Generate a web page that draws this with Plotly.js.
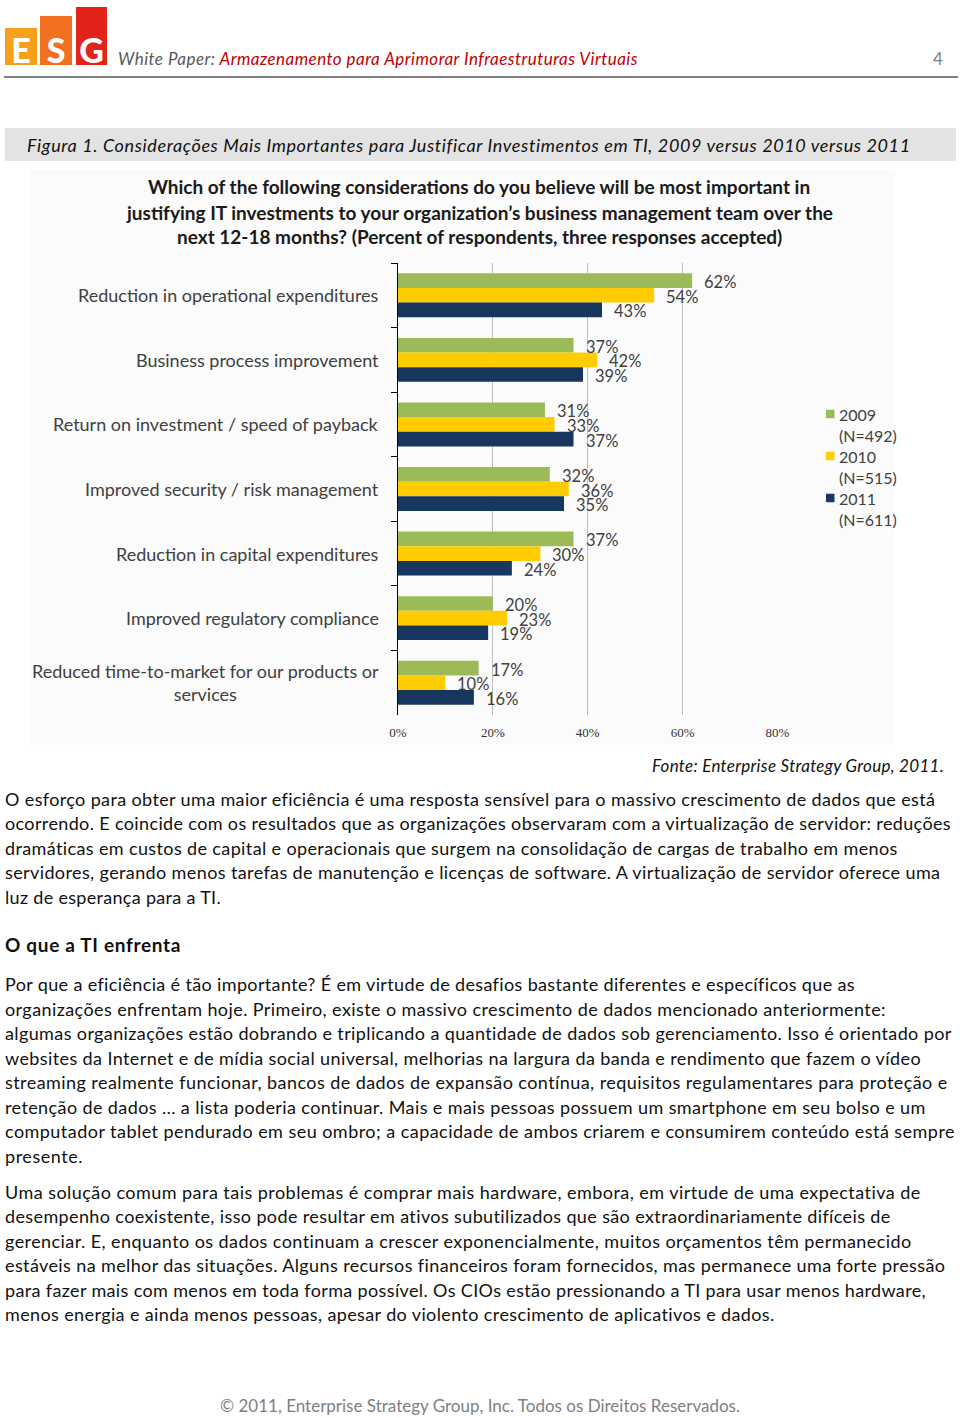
<!DOCTYPE html>
<html><head><meta charset="utf-8">
<script src="https://cdn.plot.ly/plotly-3.0.1.min.js"></script>
<style>
html,body{margin:0;padding:0;background:#fff;}
body{width:960px;height:1418px;position:relative;overflow:hidden;font-family:Lato,'Open Sans',sans-serif;}
.t{position:absolute;white-space:nowrap;display:inline-block;line-height:24px;height:24px;}
.body{font-size:18px;color:#111;left:5px;}
.blk{position:absolute;}
.logo{position:absolute;color:#fff;font-weight:900;font-size:34px;text-align:center;line-height:1;}
#chartbg{position:absolute;left:30px;top:170px;width:865px;height:575px;background:#fbfbfb;}
#chart{position:absolute;left:30px;top:170px;width:900px;height:575px;}
</style></head><body>

<!-- header -->
<div class="blk" style="left:5px;top:28px;width:32px;height:37px;background:#f7a11a"></div>
<div class="blk" style="left:40px;top:16px;width:32px;height:49px;background:#f37021"></div>
<div class="blk" style="left:76px;top:7px;width:31px;height:58px;background:#e2231a"></div>
<div class="logo" style="left:5px;top:33px;width:32px;">E</div>
<div class="logo" style="left:40px;top:33px;width:32px;">S</div>
<div class="logo" style="left:76px;top:33px;width:31px;">G</div>
<div class="t fit" data-w="520" style="left:118px;top:47px;font-size:17px;font-style:italic;color:#595959;">White Paper: <span style="color:#c00000">Armazenamento para Aprimorar Infraestruturas Virtuais</span></div>
<div class="t" style="left:933px;top:47px;font-size:17px;color:#7f7f7f;">4</div>
<div class="blk" style="left:4px;top:76px;width:954px;height:2px;background:#7f7f7f"></div>

<div class="blk" style="left:5px;top:128px;width:951px;height:33px;background:#e3e3e3"></div>
<div class="t fit" data-w="883" style="left:27px;top:133px;font-size:18px;font-style:italic;color:#111;">Figura 1. Considerações Mais Importantes para Justificar Investimentos em TI, 2009 versus 2010 versus 2011</div>

<div id="chartbg"></div>
<div id="chart"></div>

<div class="t fit" data-w="292" style="left:652px;top:754px;font-size:17px;font-style:italic;color:#111;">Fonte: Enterprise Strategy Group, 2011.</div>

<!-- paragraph 1 -->
<div class="t body fit" data-w="930" style="top:787px">O esforço para obter uma maior eficiência é uma resposta sensível para o massivo crescimento de dados que está</div>
<div class="t body fit" data-w="946" style="top:811px">ocorrendo. E coincide com os resultados que as organizações observaram com a virtualização de servidor: reduções</div>
<div class="t body fit" data-w="893" style="top:836px">dramáticas em custos de capital e operacionais que surgem na consolidação de cargas de trabalho em menos</div>
<div class="t body fit" data-w="935" style="top:860px">servidores, gerando menos tarefas de manutenção e licenças de software. A virtualização de servidor oferece uma</div>
<div class="t body fit" data-w="216" style="top:885px">luz de esperança para a TI.</div>

<div class="t body fit" data-w="176" style="top:933px;font-weight:bold;font-size:19px;">O que a TI enfrenta</div>

<!-- paragraph 2 -->
<div class="t body fit" data-w="849" style="top:972px">Por que a eficiência é tão importante? É em virtude de desafios bastante diferentes e específicos que as</div>
<div class="t body fit" data-w="881" style="top:997px">organizações enfrentam hoje. Primeiro, existe o massivo crescimento de dados mencionado anteriormente:</div>
<div class="t body fit" data-w="947" style="top:1021px">algumas organizações estão dobrando e triplicando a quantidade de dados sob gerenciamento. Isso é orientado por</div>
<div class="t body fit" data-w="916" style="top:1046px">websites da Internet e de mídia social universal, melhorias na largura da banda e rendimento que fazem o vídeo</div>
<div class="t body fit" data-w="943" style="top:1070px">streaming realmente funcionar, bancos de dados de expansão contínua, requisitos regulamentares para proteção e</div>
<div class="t body fit" data-w="921" style="top:1095px">retenção de dados … a lista poderia continuar. Mais e mais pessoas possuem um smartphone em seu bolso e um</div>
<div class="t body fit" data-w="950" style="top:1119px">computador tablet pendurado em seu ombro; a capacidade de ambos criarem e consumirem conteúdo está sempre</div>
<div class="t body fit" data-w="78" style="top:1144px">presente.</div>

<!-- paragraph 3 -->
<div class="t body fit" data-w="916" style="top:1180px">Uma solução comum para tais problemas é comprar mais hardware, embora, em virtude de uma expectativa de</div>
<div class="t body fit" data-w="886" style="top:1204px">desempenho coexistente, isso pode resultar em ativos subutilizados que são extraordinariamente difíceis de</div>
<div class="t body fit" data-w="907" style="top:1229px">gerenciar. E, enquanto os dados continuam a crescer exponencialmente, muitos orçamentos têm permanecido</div>
<div class="t body fit" data-w="940" style="top:1253px">estáveis na melhor das situações. Alguns recursos financeiros foram fornecidos, mas permanece uma forte pressão</div>
<div class="t body fit" data-w="921" style="top:1278px">para fazer mais com menos em toda forma possível. Os CIOs estão pressionando a TI para usar menos hardware,</div>
<div class="t body fit" data-w="770" style="top:1302px">menos energia e ainda menos pessoas, apesar do violento crescimento de aplicativos e dados.</div>

<div class="t fit" data-w="520" style="left:220px;top:1394px;font-size:17px;color:#7f7f7f;">© 2011, Enterprise Strategy Group, Inc. Todos os Direitos Reservados.</div>

<script>
// ---- chart data ----
const categories = [
  "Reduction in operational expenditures",
  "Business process improvement",
  "Return on investment / speed of payback",
  "Improved security / risk management",
  "Reduction in capital expenditures",
  "Improved regulatory compliance",
  "Reduced time-to-market for our products or services"
];
const categoryLabels = [
  "Reduction in operational expenditures",
  "Business process improvement",
  "Return on investment / speed of payback",
  "Improved security / risk management",
  "Reduction in capital expenditures",
  "Improved regulatory compliance",
  "Reduced time-to-market for our products or<br>services"
];
const years = ["2009", "2010", "2011"];
const sampleSizes = ["(N=492)", "(N=515)", "(N=611)"];
const values2009 = [62, 37, 31, 32, 37, 20, 17];
const values2010 = [54, 42, 33, 36, 30, 23, 10];
const values2011 = [43, 39, 37, 35, 24, 19, 16];
const xTickVals = [0, 20, 40, 60, 80];
const xTickText = ["0%", "20%", "40%", "60%", "80%"];
const titleLines = [
  "Which of the following considerations do you believe will be most important in",
  "justifying IT investments to your organization’s business management team over the",
  "next 12-18 months? (Percent of respondents, three responses accepted)"
];

// ---- styling ----
const seriesValues = [values2009, values2010, values2011];
const colors = ["#9bbb59", "#ffcc00", "#17375e"];
const W = 900, H = 575, ML = 368, MR = 152, MT = 93, MB = 30;
const PW = W - ML - MR, PH = H - MT - MB;
const ox = 30, oy = 170; // page offset of chart div
const px = X => (X - ox - ML) / PW;      // page x -> paper
const py = Y => 1 - (Y - oy - MT) / PH;  // page y -> paper

const traces = seriesValues.map((vals, i) => ({
  type: "bar", orientation: "h", name: years[i],
  x: vals, y: categories,
  marker: { color: colors[i], line: { width: 0 } },
  hoverinfo: "skip"
}));

const annotations = [];
const shapes = [];
// category labels
categories.forEach((c, k) => annotations.push({
  xref: "paper", yref: "y", x: 0, y: c, xanchor: "right", yanchor: "middle",
  xshift: -17, text: categoryLabels[k], align: "center", showarrow: false,
  font: { family: "Lato", size: 18, color: "#404040" }
}));
// value labels
const yShift = [13.1, -1.5, -16.1];
seriesValues.forEach((vals, i) => vals.forEach((v, k) => annotations.push({
  xref: "x", yref: "y", x: v, y: categories[k], xanchor: "left", yanchor: "middle",
  xshift: 10, yshift: yShift[i], text: v + "%", showarrow: false,
  font: { family: "Lato", size: 16.5, color: "#404040" }
})));
// title
const titleY = [187, 212, 236.5];
titleLines.forEach((t, i) => annotations.push({
  xref: "paper", yref: "paper", x: px(479), y: py(titleY[i]), xanchor: "center", yanchor: "middle",
  text: "<b>" + t + "</b>", showarrow: false,
  font: { family: "Lato", size: 19, color: "#1a1a1a" }
}));
// legend
const legY = [414, 456, 498];
years.forEach((yr, i) => {
  shapes.push({ type: "rect", xref: "paper", yref: "paper",
    x0: px(826), x1: px(834.5), y0: py(legY[i] + 4.25), y1: py(legY[i] - 4.25),
    fillcolor: colors[i], line: { width: 0 } });
  annotations.push({ xref: "paper", yref: "paper", x: px(837), y: py(legY[i]), xanchor: "left", yanchor: "middle",
    text: yr, showarrow: false, font: { family: "Lato", size: 16, color: "#404040" } });
  annotations.push({ xref: "paper", yref: "paper", x: px(837), y: py(legY[i] + 21), xanchor: "left", yanchor: "middle",
    text: sampleSizes[i], showarrow: false, font: { family: "Lato", size: 16, color: "#404040" } });
});

const layout = {
  width: W, height: H,
  margin: { l: ML, r: MR, t: MT, b: MB, pad: 0 },
  paper_bgcolor: "rgba(0,0,0,0)", plot_bgcolor: "rgba(0,0,0,0)",
  barmode: "group", bargap: 0.32, bargroupgap: 0,
  showlegend: false,
  font: { family: "Lato", color: "#404040" },
  xaxis: {
    range: [0, 80.1], tickmode: "array", tickvals: xTickVals, ticktext: xTickText,
    showgrid: true, gridcolor: "#bfbfbf", gridwidth: 1, zeroline: false, showline: false,
    ticks: "", ticklabelstandoff: 8,
    tickfont: { family: "Liberation Serif", size: 13, color: "#333333" }, fixedrange: true
  },
  yaxis: {
    type: "category", categoryorder: "array", categoryarray: categories,
    autorange: false, range: [6.5, -0.5],
    showticklabels: false, ticks: "outside", tickson: "boundaries", ticklen: 6,
    tickcolor: "#000", tickwidth: 1,
    showline: true, linecolor: "#000", linewidth: 1, showgrid: false, zeroline: false, fixedrange: true
  },
  annotations: annotations, shapes: shapes
};

Plotly.newPlot("chart", traces, layout, { staticPlot: true, displayModeBar: false });

// fit text lines to their target widths
function fitLines() {
  document.querySelectorAll(".fit").forEach(el => {
    el.style.letterSpacing = "0px";
    const w = el.getBoundingClientRect().width;
    const target = +el.dataset.w;
    const n = el.textContent.length;
    if (n > 1) el.style.letterSpacing = ((target - w) / n) + "px";
  });
}
if (document.fonts && document.fonts.ready) document.fonts.ready.then(fitLines);
fitLines();
</script>
</body></html>
